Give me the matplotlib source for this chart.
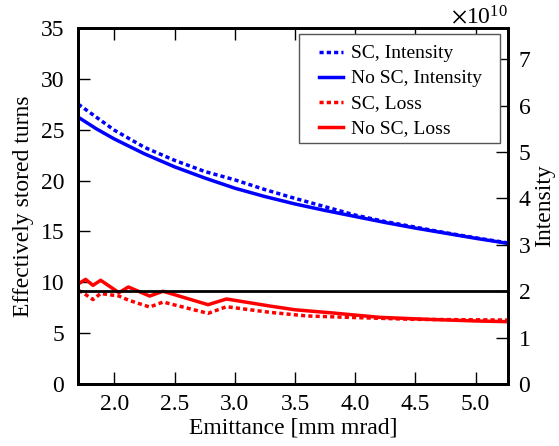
import numpy as np
import matplotlib
matplotlib.use("Agg")
import matplotlib.pyplot as plt
from matplotlib.patches import Rectangle
from matplotlib.ticker import FormatStrFormatter, ScalarFormatter

# intensity curves (right axis, units of 1e10)
EMIT_I = [1.7, 1.85, 2.0, 2.25, 2.5, 2.75, 3.0, 3.25, 3.5, 3.75, 4.0, 4.25, 4.5, 4.75, 5.0, 5.27]
INT_SC = [6.03, 5.75, 5.47, 5.10, 4.82, 4.58, 4.40, 4.19, 4.00, 3.82, 3.64, 3.50, 3.38, 3.26, 3.15, 3.04]
INT_NOSC = [5.75, 5.50, 5.28, 4.96, 4.68, 4.44, 4.22, 4.04, 3.88, 3.74, 3.61, 3.48, 3.36, 3.25, 3.14, 3.03]

# loss curves (left axis, turns)
EMIT_L_SC = [1.703, 1.761, 1.822, 1.886, 2.038, 2.116, 2.293, 2.404, 2.778, 2.931, 3.29, 3.6, 3.93, 4.48, 5.27]
LOSS_SC = [9.21, 8.80, 8.30, 8.90, 8.65, 8.25, 7.57, 8.06, 6.95, 7.60, 7.05, 6.69, 6.56, 6.36, 6.29]
EMIT_L_NOSC = [1.703, 1.761, 1.822, 1.886, 2.038, 2.116, 2.293, 2.404, 2.778, 2.931, 3.29, 3.5, 3.8, 4.2, 4.6, 5.0, 5.27]
LOSS_NOSC = [9.86, 10.29, 9.70, 10.20, 8.98, 9.54, 8.65, 9.12, 7.80, 8.36, 7.67, 7.30, 7.00, 6.56, 6.36, 6.20, 6.13]

THRESH = 2.0  # intensity level, 1e10

plt.rcParams.update({
    "font.family": ["Liberation Serif", "DejaVu Serif"],
    "mathtext.fontset": "stix",
    "font.size": 17,
    "axes.linewidth": 2.0,
    "xtick.direction": "in", "ytick.direction": "in",
    "xtick.major.size": 8.5, "ytick.major.size": 8.5,
    "xtick.major.width": 1.0, "ytick.major.width": 1.0,
    "xtick.major.pad": 7,
})

fig = plt.figure(figsize=(5.59, 4.46), dpi=100)
ax = fig.add_axes([0.140, 0.139, 0.769, 0.798])
ax2 = ax.twinx()

dash = (0, (1.2, 0.9))
lw = 2.5
h1, = ax2.plot(EMIT_I, np.array(INT_SC) * 1e10, color="blue", lw=lw, ls=dash, label="SC, Intensity")
h2, = ax2.plot(EMIT_I, np.array(INT_NOSC) * 1e10, color="blue", lw=lw, label="No SC, Intensity")
ax2.axhline(THRESH * 1e10, color="black", lw=2.0, zorder=1)
h3, = ax.plot(EMIT_L_SC, LOSS_SC, color="red", lw=lw, ls=dash, label="SC, Loss")
h4, = ax.plot(EMIT_L_NOSC, LOSS_NOSC, color="red", lw=lw, label="No SC, Loss")

ax.set_xlim(1.7, 5.27)
ax.set_ylim(0, 35)
ax2.set_ylim(0, 7.67e10)
ax.set_xticks([2.0, 2.5, 3.0, 3.5, 4.0, 4.5, 5.0])
ax.xaxis.set_major_formatter(FormatStrFormatter("%.1f"))
ax.set_yticks(range(0, 36, 5))
ax2.set_yticks(np.arange(0, 8) * 1e10)
ax2.yaxis.set_major_formatter(ScalarFormatter(useMathText=True))
ax.tick_params(top=True)
ax.tick_params(axis="y", pad=10)
ax2.tick_params(axis="y", pad=7)
ax.set_xlabel("Emittance [mm mrad]", labelpad=2)
ax.set_ylabel("Effectively stored turns", labelpad=5)
ax2.set_ylabel("Intensity", labelpad=2)
ax2.yaxis.get_offset_text().set_fontsize(17)

# legend: frame drawn separately (wide side padding, tight vertical padding)
ax2.add_patch(Rectangle((0.513, 0.677), 0.468, 0.306, transform=ax2.transAxes,
                        facecolor="white", edgecolor="#555555", lw=1.0, zorder=4.5))
leg = ax2.legend(handles=[h1, h2, h3, h4], loc="upper left", bbox_to_anchor=(0.560, 0.953),
                 fontsize=14, frameon=False, handlelength=1.25, handletextpad=0.4,
                 borderpad=0, borderaxespad=0, labelspacing=0.38)

fig.savefig("out.png", dpi=100)
